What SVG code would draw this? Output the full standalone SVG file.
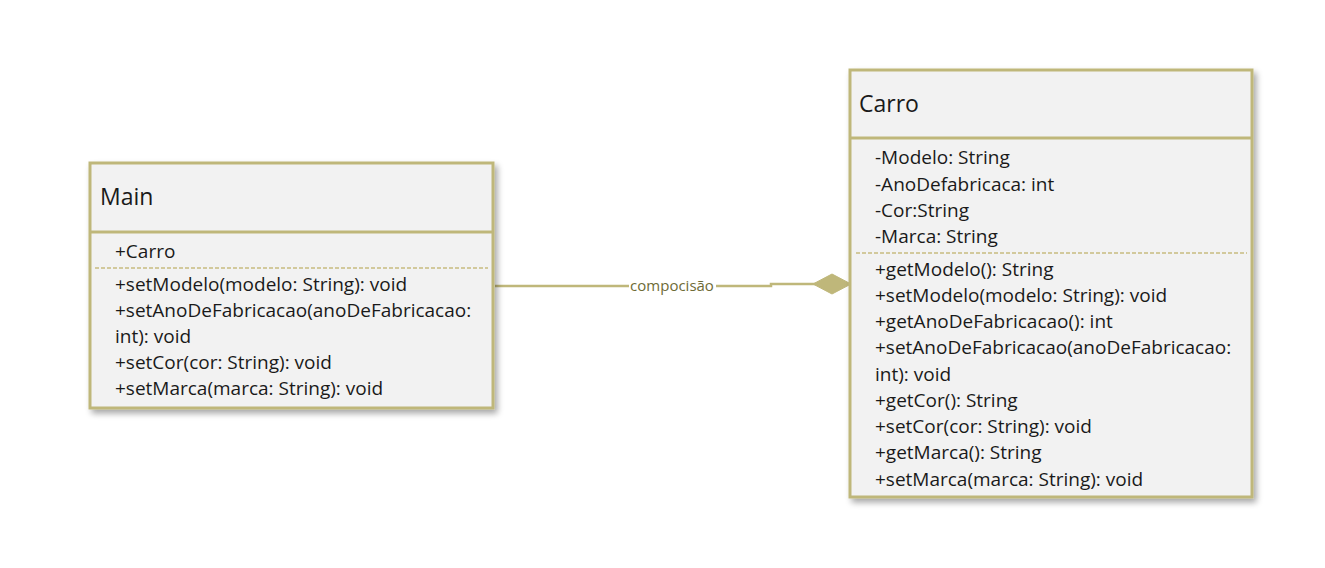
<svg xmlns="http://www.w3.org/2000/svg" width="1325" height="568" viewBox="0 0 1325 568">
<defs>
<filter id="sh" x="-10%" y="-10%" width="125%" height="125%">
<feGaussianBlur in="SourceAlpha" stdDeviation="3"/>
<feOffset dx="3" dy="4"/>
<feComponentTransfer><feFuncA type="linear" slope="0.35"/></feComponentTransfer>
<feMerge><feMergeNode/><feMergeNode in="SourceGraphic"/></feMerge>
</filter>
<marker id="diamond" markerWidth="40" markerHeight="22" refX="39" refY="11" orient="auto" markerUnits="userSpaceOnUse">
<path d="M1,11 L20,1 L39,11 L20,21 Z" fill="#BFB77A" stroke="#BFB77A" stroke-width="1"/>
</marker>
</defs>
<style>
.box{fill:#F2F2F2;stroke:#BFB77A;stroke-width:3}
.sep{stroke:#BFB77A;stroke-width:3}
.dash{stroke:#C8BC80;stroke-width:1.5;stroke-dasharray:4 2}
.t{font-family:"Open Sans","Noto Sans",sans-serif;font-size:19px;fill:#1a1a1a}
.h{font-family:"Open Sans","Noto Sans",sans-serif;font-size:23px;fill:#1a1a1a}
.lbl{font-family:"Open Sans","Noto Sans",sans-serif;font-size:15px;fill:#6E6B36}
.conn{fill:none;stroke:#BFB77A;stroke-width:2.5}
</style>
<rect width="1325" height="568" fill="#FFFFFF"/>
<g id="connectors">
<path class="conn" d="M495,286 L771,286 L771,284 L851,284" marker-end="url(#diamond)"/>
<rect x="629" y="277" width="87" height="18" fill="#FFFFFF"/>
<text class="lbl" x="672" y="291" text-anchor="middle">compocisão</text>
</g>
<g id="Main">
<rect class="box" x="90" y="163" width="403" height="245" filter="url(#sh)"/>
<line class="sep" x1="90" y1="232" x2="493" y2="232"/>
<text class="h" x="100" y="205">Main</text>
<text class="t" x="115" y="258">+Carro</text>
<line class="dash" x1="95" y1="268" x2="488" y2="268"/>
<text class="t" x="115" y="291">+setModelo(modelo: String): void</text>
<text class="t" x="115" y="317">+setAnoDeFabricacao(anoDeFabricacao:</text>
<text class="t" x="115" y="343">int): void</text>
<text class="t" x="115" y="369">+setCor(cor: String): void</text>
<text class="t" x="115" y="395">+setMarca(marca: String): void</text>
</g>
<g id="Carro">
<rect class="box" x="850" y="70" width="402" height="427" filter="url(#sh)"/>
<line class="sep" x1="850" y1="138" x2="1252" y2="138"/>
<text class="h" x="859" y="112">Carro</text>
<text class="t" x="875" y="164">-Modelo: String</text>
<text class="t" x="875" y="191">-AnoDefabricaca: int</text>
<text class="t" x="875" y="217">-Cor:String</text>
<text class="t" x="875" y="243">-Marca: String</text>
<line class="dash" x1="856" y1="253" x2="1247" y2="253"/>
<text class="t" x="875" y="276">+getModelo(): String</text>
<text class="t" x="875" y="302">+setModelo(modelo: String): void</text>
<text class="t" x="875" y="328">+getAnoDeFabricacao(): int</text>
<text class="t" x="875" y="354">+setAnoDeFabricacao(anoDeFabricacao:</text>
<text class="t" x="875" y="381">int): void</text>
<text class="t" x="875" y="407">+getCor(): String</text>
<text class="t" x="875" y="433">+setCor(cor: String): void</text>
<text class="t" x="875" y="459">+getMarca(): String</text>
<text class="t" x="875" y="486">+setMarca(marca: String): void</text>
</g>
</svg>
